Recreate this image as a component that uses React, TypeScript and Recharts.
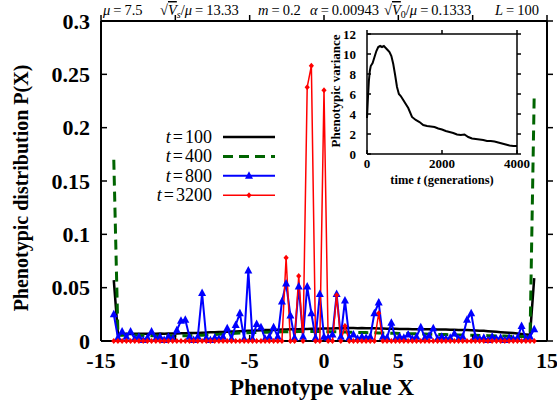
import React from 'react';
import { LineChart, Line, XAxis, YAxis, Legend } from 'recharts';

const SERIF = '"Liberation Serif", "Times New Roman", "DejaVu Serif", serif';

// Phenotype values X (101 possible values for L=100)
const PHENOTYPE_X = [
  -14.14, -13.86, -13.58, -13.29, -13.01, -12.73, -12.45, -12.16, -11.88, -11.6,
  -11.31, -11.03, -10.75, -10.47, -10.18, -9.9, -9.62, -9.33, -9.05, -8.77,
  -8.49, -8.2, -7.92, -7.64, -7.35, -7.07, -6.79, -6.51, -6.22, -5.94,
  -5.66, -5.37, -5.09, -4.81, -4.53, -4.24, -3.96, -3.68, -3.39, -3.11,
  -2.83, -2.55, -2.26, -1.98, -1.7, -1.41, -1.13, -0.85, -0.57, -0.28,
  0, 0.28, 0.57, 0.85, 1.13, 1.41, 1.7, 1.98, 2.26, 2.55,
  2.83, 3.11, 3.39, 3.68, 3.96, 4.24, 4.53, 4.81, 5.09, 5.37,
  5.66, 5.94, 6.22, 6.51, 6.79, 7.07, 7.35, 7.64, 7.92, 8.2,
  8.49, 8.77, 9.05, 9.33, 9.62, 9.9, 10.18, 10.47, 10.75, 11.03,
  11.31, 11.6, 11.88, 12.16, 12.45, 12.73, 13.01, 13.29, 13.58, 13.86,
  14.14,
];

// P(X) at t=100
const P_T100 = [
  0.057, 0.0066, 0.0065, 0.0067, 0.0066, 0.0068, 0.0067, 0.0068, 0.0069, 0.0068,
  0.0069, 0.007, 0.0069, 0.007, 0.0071, 0.007, 0.0072, 0.0073, 0.0074, 0.0075,
  0.0076, 0.0078, 0.0079, 0.0081, 0.0082, 0.0084, 0.0085, 0.0087, 0.0089, 0.009,
  0.0092, 0.0094, 0.0096, 0.0097, 0.0099, 0.01, 0.0102, 0.0103, 0.0104, 0.0106,
  0.0107, 0.0108, 0.0109, 0.011, 0.0111, 0.0112, 0.0113, 0.0114, 0.0115, 0.0116,
  0.0117, 0.0118, 0.0118, 0.0119, 0.012, 0.012, 0.0121, 0.0121, 0.012, 0.0121,
  0.012, 0.012, 0.0119, 0.0118, 0.0117, 0.0116, 0.0115, 0.0114, 0.0113, 0.0112,
  0.0112, 0.0111, 0.0111, 0.011, 0.011, 0.0109, 0.0109, 0.0108, 0.0107, 0.0107,
  0.0106, 0.0105, 0.0104, 0.0103, 0.0102, 0.0101, 0.0099, 0.0097, 0.0095, 0.0092,
  0.0089, 0.0086, 0.0083, 0.008, 0.0077, 0.0074, 0.007, 0.0066, 0.0062, 0.0058,
  0.059,
];

// P(X) at t=400
const P_T400 = [
  0.17, 0.0055, 0.0054, 0.0056, 0.0055, 0.0054, 0.0053, 0.0052, 0.0051, 0.005,
  0.0049, 0.0048, 0.0048, 0.0047, 0.0047, 0.0047, 0.0048, 0.0049, 0.005, 0.0052,
  0.0053, 0.0055, 0.0057, 0.0059, 0.0061, 0.0063, 0.0066, 0.0068, 0.007, 0.0072,
  0.0074, 0.0076, 0.0078, 0.0079, 0.008, 0.0081, 0.0082, 0.0083, 0.0084, 0.0085,
  0.0086, 0.0086, 0.0087, 0.0087, 0.0088, 0.0088, 0.0088, 0.0089, 0.0088, 0.0088,
  0.0087, 0.0087, 0.0086, 0.0086, 0.0085, 0.0084, 0.0083, 0.0082, 0.0081, 0.008,
  0.0079, 0.0078, 0.0077, 0.0076, 0.0075, 0.0074, 0.0073, 0.0072, 0.0071, 0.007,
  0.0069, 0.0068, 0.0067, 0.0066, 0.0065, 0.0064, 0.0063, 0.0062, 0.0061, 0.006,
  0.0059, 0.0058, 0.0057, 0.0056, 0.0055, 0.0054, 0.0053, 0.0052, 0.0051, 0.005,
  0.0049, 0.0048, 0.0047, 0.0046, 0.0045, 0.0044, 0.0043, 0.0042, 0.0041, 0.004,
  0.231,
];

// P(X) at t=800
const P_T800 = [
  0.025, 0.003, 0.009, 0.004, 0.009, 0.002, 0.004, 0.001, 0.003, 0.009,
  0.002, 0.004, 0.001, 0.004, 0.002, 0.01, 0.019, 0.02, 0.004, 0.001,
  0.004, 0.045, 0.003, 0.001, 0.003, 0.002, 0.004, 0.012, 0.002, 0.015,
  0.026, 0.002, 0.066, 0.002, 0.016, 0.013, 0.002, 0.004, 0.013, 0.004,
  0.037, 0.054, 0.024, 0.003, 0.051, 0.004, 0.051, 0.026, 0.003, 0.044,
  0.004, 0.003, 0.006, 0.044, 0.004, 0.038, 0.003, 0.006, 0.002, 0.004,
  0.003, 0.004, 0.026, 0.036, 0.004, 0.003, 0.017, 0.002, 0.004, 0.003,
  0.006, 0.002, 0.004, 0.013, 0.003, 0.005, 0.012, 0.002, 0.004, 0.002,
  0.003, 0.007, 0.002, 0.004, 0.02, 0.026, 0.004, 0.002, 0.003, 0.001,
  0.004, 0.002, 0.003, 0.001, 0.003, 0.002, 0.003, 0.014, 0.002, 0.004,
  0.011,
];

// P(X) at t=3200
const P_T3200 = [
  0, 0, 0, 0, 0, 0, 0, 0, 0, 0,
  0, 0, 0, 0, 0, 0, 0, 0, 0, 0,
  0, 0, 0, 0, 0, 0, 0, 0, 0, 0,
  0, 0, 0, 0, 0, 0, 0, 0, 0, 0,
  0, 0.078, 0, 0, 0.061, 0, 0.238, 0.258, 0, 0,
  0.235, 0, 0, 0.043, 0, 0.014, 0, 0, 0, 0,
  0, 0, 0, 0.026, 0, 0, 0, 0, 0, 0,
  0, 0, 0, 0, 0, 0, 0, 0, 0, 0,
  0, 0, 0, 0, 0, 0, 0, 0, 0, 0,
  0, 0, 0, 0, 0, 0, 0, 0, 0, 0,
  0,
];

const X_TICKS = [-15, -10, -5, 0, 5, 10, 15];
const Y_TICKS = [0, 0.05, 0.1, 0.15, 0.2, 0.25, 0.3];

// inset: phenotypic variance over time
const INSET_TIME = [
  0, 25, 50, 75, 100,
  150, 200, 250, 300, 350, 400, 450, 500, 550, 600, 650, 700, 750, 800, 850, 900, 950, 1000,
  1100, 1200, 1300, 1400, 1500, 1600, 1700, 1800, 1900, 2000,
  2100, 2200, 2300, 2400, 2500, 2600, 2700, 2800, 2900, 3000,
  3100, 3200, 3300, 3400, 3500, 3600, 3700, 3800, 3900, 4000,
];
const INSET_VARIANCE = [
  3.6, 5.6, 7.3, 8.3, 8.8,
  9.1, 9.7, 10.3, 10.7, 10.8, 10.7, 10.8, 10.6, 10.4, 10.2, 9.8, 9.0, 7.9, 6.7, 6.0, 5.8, 5.5, 5.2,
  4.6, 3.7, 3.4, 3.2, 2.9, 2.8, 2.75, 2.7, 2.55, 2.45,
  2.3, 2.2, 2.1, 1.95, 1.9, 1.95, 1.7, 1.55, 1.5, 1.45,
  1.4, 1.3, 1.3, 1.25, 1.15, 1.05, 0.95, 0.85, 0.8, 0.8,
];
const INSET_X_TICKS = [0, 2000, 4000];
const INSET_Y_TICKS = [0, 2, 4, 6, 8, 10, 12];

const SERIES = [
  { key: 't100', name: 't=100', color: '#000000', width: 2.5, dash: undefined, marker: 'none' },
  { key: 't400', name: 't=400', color: '#006400', width: 3, dash: '10 6', marker: 'none' },
  { key: 't800', name: 't=800', color: '#0000ff', width: 2, dash: undefined, marker: 'triangle' },
  { key: 't3200', name: 't=3200', color: '#ff0000', width: 1.5, dash: undefined, marker: 'diamond' },
];

const rows = PHENOTYPE_X.map((x, i) => ({
  x,
  t100: P_T100[i],
  t400: P_T400[i],
  t800: P_T800[i],
  t3200: P_T3200[i],
}));

const insetRows = INSET_TIME.map((t, i) => ({ t, v: INSET_VARIANCE[i] }));

function markerShape(kind: string, cx: number, cy: number, color: string, key?: string) {
  if (kind === 'triangle') {
    return <polygon key={key} points={`${cx},${cy - 4.5} ${cx - 4},${cy + 3} ${cx + 4},${cy + 3}`} fill={color} />;
  }
  if (kind === 'diamond') {
    return <polygon key={key} points={`${cx},${cy - 3} ${cx + 2.6},${cy} ${cx},${cy + 3} ${cx - 2.6},${cy}`} fill={color} />;
  }
  return <g key={key} />;
}

const makeDot = (kind: string, color: string) => (props: any) => {
  const { cx, cy, key } = props;
  if (cx == null || cy == null) return <g key={key} />;
  return markerShape(kind, cx, cy, color, key);
};

const noTick = () => <g />;

const mainTick = { fontSize: 22, fontWeight: 700, fill: '#000', fontFamily: SERIF };
const insetTick = { fontSize: 13, fontWeight: 700, fill: '#000', fontFamily: SERIF };
const frame = { stroke: '#000', strokeWidth: 2 };
const insetFrame = { stroke: '#000', strokeWidth: 1.5 };
const tickLn = { stroke: '#000', strokeWidth: 1.5 };

function renderLegend() {
  return (
    <svg width={170} height={84}>
      {SERIES.map((s, i) => {
        const y = 13 + i * 19.4;
        const num = s.name.split('=')[1];
        return (
          <g key={s.key}>
            <text x={82} y={y} textAnchor="end" dominantBaseline="central" fontSize={18} fontFamily={SERIF} fill="#000">
              <tspan fontStyle="italic">t</tspan>
              <tspan dx={2}>=</tspan>
              <tspan dx={2}>{num}</tspan>
            </text>
            <line x1={93} x2={145} y1={y} y2={y} stroke={s.color} strokeWidth={s.width} strokeDasharray={s.dash} />
            {markerShape(s.marker, 119, y, s.color)}
          </g>
        );
      })}
    </svg>
  );
}

export default function App() {
  return (
    <div style={{ position: 'absolute', left: 0, top: 0, width: 557, height: 403, background: '#fff' }}>
      <LineChart width={557} height={403} data={rows} margin={{ top: 21, right: 10, bottom: 0, left: 0 }}>
        {/* negative tickSize -> gnuplot style inward ticks */}
        <XAxis xAxisId="x" dataKey="x" type="number" domain={[-15, 15]} ticks={X_TICKS} interval={0}
          height={62} tickLine={tickLn} tickSize={-6} tickMargin={17} axisLine={frame} tick={mainTick} />
        <XAxis xAxisId="xTop" dataKey="x" type="number" domain={[-15, 15]} ticks={X_TICKS} interval={0}
          allowDataOverflow mirror orientation="top" axisLine={frame} tick={noTick} tickLine={tickLn} tickSize={-6} />
        <YAxis yAxisId="y" type="number" domain={[0, 0.3]} ticks={Y_TICKS} interval={0} width={101}
          tickLine={tickLn} tickSize={-6} tickMargin={17} axisLine={frame} tick={mainTick} />
        <YAxis yAxisId="yRight" type="number" domain={[0, 0.3]} ticks={Y_TICKS} interval={0}
          allowDataOverflow mirror orientation="right" axisLine={frame} tick={noTick} tickLine={tickLn} tickSize={-6} />
        {SERIES.map((s) => (
          <Line
            key={s.key}
            xAxisId="x"
            yAxisId="y"
            type="linear"
            dataKey={s.key}
            name={s.name}
            stroke={s.color}
            strokeWidth={s.width}
            strokeDasharray={s.dash}
            dot={s.marker === 'none' ? false : makeDot(s.marker, s.color)}
            activeDot={false}
            isAnimationActive={false}
          />
        ))}
        <Legend layout="vertical" align="center" verticalAlign="middle" width={170} height={84}
          content={renderLegend} wrapperStyle={{ left: 130, top: 124 }} />
      </LineChart>

      {/* inset: variance vs time */}
      <div style={{ position: 'absolute', left: 300, top: 20 }}>
        <LineChart width={230} height={175} data={insetRows} margin={{ top: 14, right: 13, bottom: 0, left: 0 }}>
          <XAxis xAxisId="x" dataKey="t" type="number" domain={[0, 4000]} ticks={INSET_X_TICKS} interval={0}
            height={41} tickLine={tickLn} tickSize={-4} tickMargin={9} axisLine={insetFrame} tick={insetTick} />
          <XAxis xAxisId="xTop" dataKey="t" type="number" domain={[0, 4000]} ticks={INSET_X_TICKS} interval={0}
            allowDataOverflow mirror orientation="top" axisLine={insetFrame} tick={noTick} tickLine={tickLn} tickSize={-4} />
          <YAxis yAxisId="y" type="number" domain={[0, 12]} ticks={INSET_Y_TICKS} interval={0} width={67}
            tickLine={tickLn} tickSize={-4} tickMargin={15} axisLine={insetFrame} tick={insetTick} />
          <YAxis yAxisId="yRight" type="number" domain={[0, 12]} ticks={INSET_Y_TICKS} interval={0}
            allowDataOverflow mirror orientation="right" axisLine={insetFrame} tick={noTick} tickLine={tickLn} tickSize={-4} />
          <Line xAxisId="x" yAxisId="y" type="linear" dataKey="v" stroke="#000" strokeWidth={2}
            dot={false} activeDot={false} isAnimationActive={false} />
        </LineChart>
      </div>

      {/* titles and parameter line */}
      <svg width={557} height={403} style={{ position: 'absolute', left: 0, top: 0, pointerEvents: 'none' }}
        fontFamily={SERIF} fill="#000">
        <g fontSize={14.5}>
          <text x={103} y={15}>
            <tspan fontStyle="italic">μ</tspan><tspan dx={3}>=</tspan><tspan dx={3}>7.5</tspan>
          </text>
          <text x={160} y={15}>
            <tspan>√</tspan>
            <tspan fontStyle="italic" textDecoration="overline">V</tspan>
            <tspan fontStyle="italic" fontSize={10} dy={3}>s</tspan>
            <tspan dy={-3}>/</tspan>
            <tspan fontStyle="italic">μ</tspan><tspan dx={3}>=</tspan><tspan dx={3}>13.33</tspan>
          </text>
          <text x={258} y={15}>
            <tspan fontStyle="italic">m</tspan><tspan dx={3}>=</tspan><tspan dx={3}>0.2</tspan>
          </text>
          <text x={310} y={15}>
            <tspan fontStyle="italic">α</tspan><tspan dx={3}>=</tspan><tspan dx={3}>0.00943</tspan>
          </text>
          <text x={384} y={15}>
            <tspan>√</tspan>
            <tspan fontStyle="italic" textDecoration="overline">V</tspan>
            <tspan fontSize={10} dy={3}>0</tspan>
            <tspan dy={-3}>/</tspan>
            <tspan fontStyle="italic">μ</tspan><tspan dx={3}>=</tspan><tspan dx={3}>0.1333</tspan>
          </text>
          <text x={495} y={15}>
            <tspan fontStyle="italic">L</tspan><tspan dx={3}>=</tspan><tspan dx={3}>100</tspan>
          </text>
        </g>
        <text x={322} y={387} textAnchor="middle" dominantBaseline="central" fontSize={23} fontWeight={700}>
          Phenotype value X
        </text>
        <text transform="translate(21,188) rotate(-90)" textAnchor="middle" dominantBaseline="central"
          fontSize={20} fontWeight={700}>
          Phenotypic distribution P(X)
        </text>
        <text transform="translate(335,91) rotate(-90)" textAnchor="middle" dominantBaseline="central"
          fontSize={13} fontWeight={700}>
          Phenotypic variance
        </text>
        <text x={442} y={180} textAnchor="middle" dominantBaseline="central" fontSize={12.5} fontWeight={700}>
          time <tspan fontStyle="italic">t</tspan> (generations)
        </text>
      </svg>
    </div>
  );
}
